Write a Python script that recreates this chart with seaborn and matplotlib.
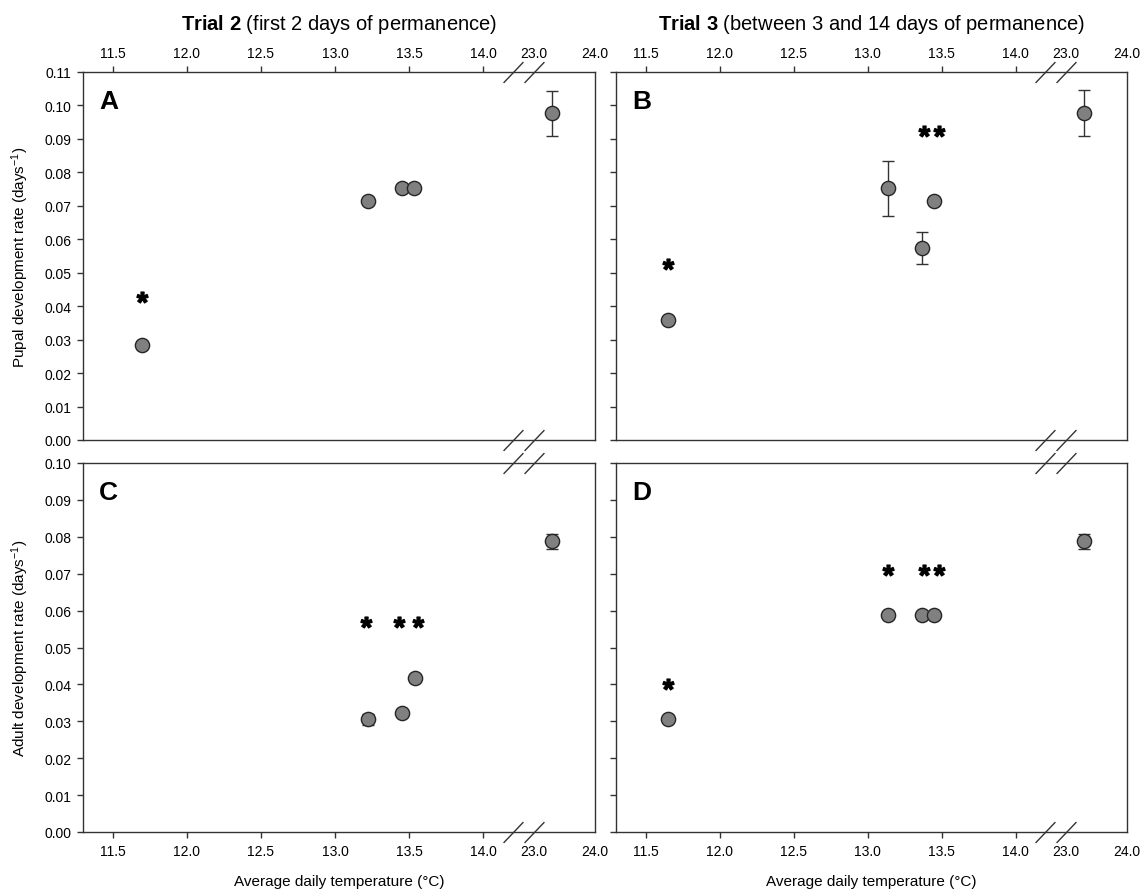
import numpy as np
import pandas as pd
import seaborn as sns
import matplotlib
matplotlib.use("Agg")
from matplotlib import pyplot as plt

# values
a_temp = [11.70, 13.22, 13.45, 13.53, 23.30]
a_rate = [0.0285, 0.0715, 0.0752, 0.0752, 0.0976]
a_err = [0, 0, 0, 0, 0.0068]
a_star_temp = [11.70]
a_star_rate = [0.0428]

b_temp = [11.65, 13.14, 13.37, 13.45, 23.30]
b_rate = [0.0358, 0.0752, 0.0574, 0.0715, 0.0977]
b_err = [0, 0.0083, 0.0047, 0, 0.0068]
b_star_temp = [11.65, 13.38, 13.48]
b_star_rate = [0.0525, 0.0925, 0.0925]

c_temp = [13.22, 13.45, 13.54, 23.30]
c_rate = [0.0305, 0.0322, 0.0417, 0.0788]
c_err = [0.0015, 0, 0, 0.0020]
c_star_temp = [13.21, 13.43, 13.56]
c_star_rate = [0.0569, 0.0569, 0.0569]

d_temp = [11.65, 13.14, 13.37, 13.45, 23.30]
d_rate = [0.0305, 0.0588, 0.0588, 0.0588, 0.0788]
d_err = [0, 0, 0, 0, 0.0020]
d_star_temp = [11.65, 13.14, 13.38, 13.48]
d_star_rate = [0.0400, 0.0711, 0.0711, 0.0711]

x_ticks = [11.5, 12.0, 12.5, 13.0, 13.5, 14.0, 23.0, 24.0]

sns.set_style("ticks")
plt.rcParams['font.family'] = ['Liberation Sans', 'DejaVu Sans']
plt.rcParams['text.color'] = 'black'
plt.rcParams['mathtext.fontset'] = 'custom'
plt.rcParams['mathtext.rm'] = 'Liberation Sans'
plt.rcParams['mathtext.bf'] = 'Liberation Sans:bold'
plt.rcParams['mathtext.it'] = 'Liberation Sans:italic'

# broken axis: 14.2 -> 23.0 squeezed, right part compressed
B0, B1 = 14.2, 23.0
T1 = 14.341
K = 0.411


def fwd(x):
    x = np.asarray(x, float)
    mid = B0 + (x - B0) * (T1 - B0) / (B1 - B0)
    return np.where(x <= B0, x, np.where(x >= B1, T1 + (x - B1) * K, mid))


def inv(t):
    t = np.asarray(t, float)
    mid = B0 + (t - B0) * (B1 - B0) / (T1 - B0)
    return np.where(t <= B0, t, np.where(t >= T1, B1 + (t - T1) / K, mid))


W, H = 1146, 895
fig = plt.figure(figsize=(W / 100, H / 100), dpi=100)


def box(l, t, r, b):
    return [l / W, 1 - b / H, (r - l) / W, (b - t) / H]


axA = fig.add_axes(box(83, 73, 595, 441))
axB = fig.add_axes(box(616, 73, 1127, 441))
axC = fig.add_axes(box(83, 464, 595, 833))
axD = fig.add_axes(box(616, 464, 1127, 833))

panels = [
    (axA, "A", a_temp, a_rate, a_err, a_star_temp, a_star_rate, True, True, 0.11),
    (axB, "B", b_temp, b_rate, b_err, b_star_temp, b_star_rate, True, False, 0.11),
    (axC, "C", c_temp, c_rate, c_err, c_star_temp, c_star_rate, False, True, 0.10),
    (axD, "D", d_temp, d_rate, d_err, d_star_temp, d_star_rate, False, False, 0.10),
]

edge = "#333333"
for ax, letter, temp, rate, err, st, sr, top, left, ymax in panels:
    ax.set_xscale("function", functions=(fwd, inv))
    df = pd.DataFrame({"temp": temp, "rate": rate, "err": err})
    e = df[df["err"] > 0]
    ax.errorbar(e["temp"], e["rate"], yerr=e["err"], fmt="none", ecolor=edge,
                elinewidth=1, capsize=4, capthick=1, zorder=2)
    sns.scatterplot(data=df, x="temp", y="rate", ax=ax, s=105, color="#808080",
                    edgecolor="#262626", linewidth=1, zorder=3)
    ax.plot(st, sr, linestyle="none", marker=r"$\mathbf{*}$", ms=8,
            color="black", zorder=4)

    ax.set_xlim(11.3, 24.0)
    ax.set_ylim(0, ymax)
    ax.set_xticks(x_ticks)
    ax.set_xticklabels([f"{v:.1f}" for v in x_ticks])
    ax.set_yticks(np.round(np.arange(0, ymax + 0.001, 0.01), 2))
    ax.yaxis.set_major_formatter(matplotlib.ticker.FormatStrFormatter("%.2f"))
    ax.set_xlabel("")
    ax.set_ylabel("")
    for s in ax.spines.values():
        s.set_visible(True)
        s.set_color(edge)
        s.set_linewidth(1)
    ax.tick_params(axis="both", colors=edge, labelcolor="black", labelsize=10,
                   length=4.5, width=1, pad=4)
    if top:
        ax.xaxis.tick_top()
    else:
        ax.xaxis.tick_bottom()
    if not left:
        ax.tick_params(axis="y", labelleft=False)
    # no tick mark at 23.0, it sits on the break
    for tk, v in zip(ax.xaxis.get_major_ticks(), x_ticks):
        if v in (23.0, 24.0):
            tk.tick1line.set_visible(False)
            tk.tick2line.set_visible(False)

    ax.text(0.031, 0.922, letter, transform=ax.transAxes, fontsize=19,
            fontweight="bold", ha="left", va="center", color="black")

    # break marks on top and bottom spine
    for bx in (B0, B1):
        for by in (0, 1):
            ax.plot([bx], [by], transform=ax.get_xaxis_transform(),
                    marker=[(-1, -1.05), (1, 1.05)], ms=15, mew=1,
                    mfc="none", mec=edge, clip_on=False, zorder=5)

fig.text(339 / W, 1 - 25 / H,
         r"$\mathbf{Trial\ 2}$ (first 2 days of permanence)",
         ha="center", va="center", fontsize=14.5)
fig.text(871 / W, 1 - 25 / H,
         r"$\mathbf{Trial\ 3}$ (between 3 and 14 days of permanence)",
         ha="center", va="center", fontsize=14.5)

fig.text(20 / W, 1 - 257 / H, r"Pupal development rate (days$^{-1}$)",
         rotation=90, ha="center", va="center", fontsize=11)
fig.text(20 / W, 1 - 648 / H, r"Adult development rate (days$^{-1}$)",
         rotation=90, ha="center", va="center", fontsize=11)
fig.text(339 / W, 1 - 882 / H, "Average daily temperature (°C)",
         ha="center", va="center", fontsize=11)
fig.text(871 / W, 1 - 882 / H, "Average daily temperature (°C)",
         ha="center", va="center", fontsize=11)

fig.savefig("out.png", dpi=100)
